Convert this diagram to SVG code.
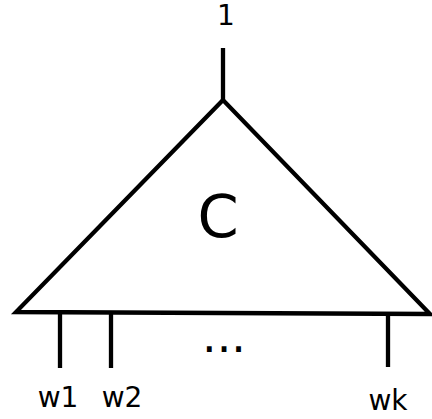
<svg xmlns="http://www.w3.org/2000/svg" width="432" height="419" viewBox="0 0 432 419">
<style>
.ln{stroke:#000;stroke-width:4.3;fill:none}
.t{font-family:"DejaVu Sans",sans-serif;fill:#000}
.lb{font-size:28px}
</style>
<rect width="432" height="419" fill="#fff"/>
<g id="connectors">
<line class="ln" x1="223" y1="48" x2="223" y2="100"/>
<line class="ln" x1="60" y1="313" x2="60" y2="368"/>
<line class="ln" x1="111" y1="313" x2="111" y2="368"/>
<line class="ln" x1="388" y1="314" x2="388" y2="367"/>
</g>
<g id="C">
<path class="ln" d="M223,100 L16,312 L430,314 Z" stroke-linejoin="miter"/>
<text class="t" x="218" y="237" font-size="59" text-anchor="middle">C</text>
</g>
<g id="out1"><text class="t lb" x="226" y="25" text-anchor="middle">1</text></g>
<g id="w1"><text class="t lb" x="58" y="407" text-anchor="middle">w1</text></g>
<g id="w2"><text class="t lb" x="122" y="407" text-anchor="middle">w2</text></g>
<g id="wk"><text class="t lb" x="388" y="410" text-anchor="middle">wk</text></g>
<g id="dots"><text class="t" x="224" y="352" font-size="46" text-anchor="middle">...</text></g>
</svg>
